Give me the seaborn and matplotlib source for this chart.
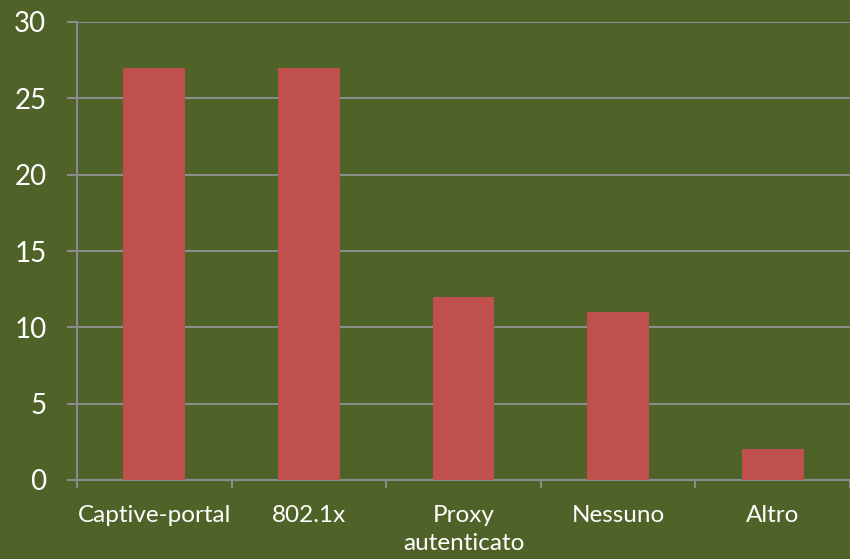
import matplotlib
matplotlib.use("Agg")
import matplotlib.pyplot as plt
import seaborn as sns
import numpy as np
import pandas as pd

# Authentication methods and number of responses
categories = ["Captive-portal", "802.1x", "Proxy\nautenticato", "Nessuno", "Altro"]
counts = [27, 27, 12, 11, 2]
y_ticks = [0, 5, 10, 15, 20, 25, 30]

BG = "#4F6228"
BAR = "#C0504D"
GRID = "#8C8C8C"

sns.set_theme(style="white")
plt.rcParams["font.family"] = ["Lato", "DejaVu Sans"]

fig = plt.figure(figsize=(8.5, 5.59), dpi=100, facecolor=BG)
ax = fig.add_axes([77 / 850, 79 / 559, 773 / 850, 458 / 559])
ax.set_facecolor(BG)

df = pd.DataFrame({"metodo": categories, "n": counts})
sns.barplot(data=df, x="metodo", y="n", color=BAR, width=0.4,
            saturation=1, linewidth=0, edgecolor=BAR, ax=ax, zorder=3)

ax.set_xlim(-0.5, len(categories) - 0.5)
ax.set_ylim(0, 30)
ax.set_yticks(y_ticks)
ax.set_yticklabels([str(v) for v in y_ticks])
ax.set_xlabel("")
ax.set_ylabel("")

ax.yaxis.grid(True, color=GRID, linewidth=1.5, zorder=0)
ax.set_axisbelow(True)

for side in ["top", "right"]:
    ax.spines[side].set_visible(False)
for side in ["left", "bottom"]:
    ax.spines[side].set_color(GRID)
    ax.spines[side].set_linewidth(1.5)

# category boundary ticks on the x axis
ax.set_xticks(np.arange(-0.5, len(categories) + 0.5, 1), minor=True)
ax.tick_params(axis="x", which="minor", length=6, width=1.5, color=GRID,
               direction="out", bottom=True)
ax.tick_params(axis="x", which="major", length=0, pad=18,
               labelsize=17.5, labelcolor="white")
ax.tick_params(axis="y", which="major", length=7, width=1.5, color=GRID,
               direction="out", left=True, pad=15,
               labelsize=20, labelcolor="white")

for lbl in ax.get_xticklabels():
    lbl.set_linespacing(1.4)
    lbl.set_verticalalignment("top")

fig.savefig("out.png", dpi=100, facecolor=BG)
